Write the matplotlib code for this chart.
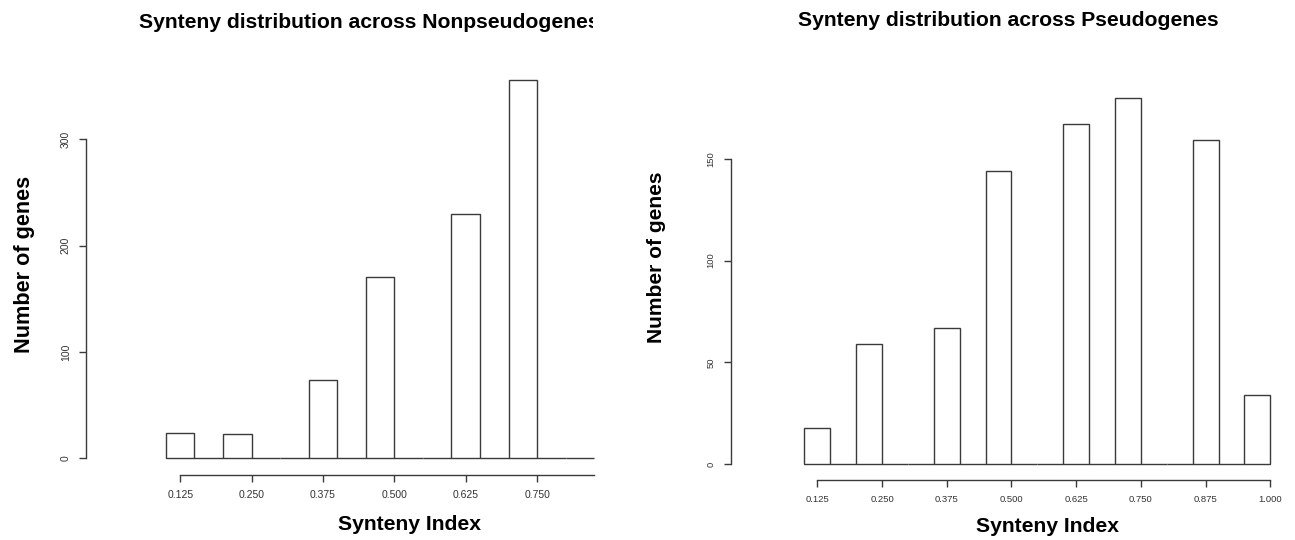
import matplotlib
matplotlib.use("Agg")
import matplotlib.pyplot as plt
from matplotlib.transforms import Bbox

plt.rcParams['font.family'] = ['Liberation Sans', 'DejaVu Sans']

# histogram bins (left edges, width 0.05) and counts
non_bin_starts = [0.10, 0.15, 0.20, 0.25, 0.30, 0.35, 0.40, 0.45, 0.50, 0.55,
                  0.60, 0.65, 0.70, 0.75, 0.80]
non_counts = [24, 0, 23, 0, 0, 74, 0, 171, 0, 0, 230, 0, 356, 0, 0]

pseudo_bin_starts = [0.10, 0.15, 0.20, 0.25, 0.30, 0.35, 0.40, 0.45, 0.50, 0.55,
                     0.60, 0.65, 0.70, 0.75, 0.80, 0.85, 0.90, 0.95]
pseudo_counts = [18, 0, 59, 0, 0, 67, 0, 144, 0, 0, 167, 0, 180, 0, 0, 159, 0, 34]
bin_width = 0.05

non_xticks = [0.125, 0.250, 0.375, 0.500, 0.625, 0.750]
pseudo_xticks = [0.125, 0.250, 0.375, 0.500, 0.625, 0.750, 0.875, 1.000]
non_yticks = [0, 100, 200, 300]
pseudo_yticks = [0, 50, 100, 150]

LINE = '#3a3a3a'
W, H = 1295, 540


def px_axes(fig, x0, y0, x1, y1):
    # pixel box (from top-left) -> figure fraction axes
    return fig.add_axes([x0 / W, (H - y1) / H, (x1 - x0) / W, (y1 - y0) / H])


def style_hist(ax, starts, counts, xticks, yticks, xlim, ylim, xend, tick_fs):
    ax.bar(starts, counts, width=bin_width, align='edge', fill=False,
           edgecolor=LINE, linewidth=1.0)
    ax.set_xlim(*xlim)
    ax.set_ylim(*ylim)
    for s in ['top', 'right']:
        ax.spines[s].set_visible(False)
    ax.spines['left'].set_bounds(yticks[0], yticks[-1])
    ax.spines['bottom'].set_bounds(xticks[0], xend)
    for s in ['left', 'bottom']:
        ax.spines[s].set_color(LINE)
        ax.spines[s].set_linewidth(1.0)
    ax.set_xticks(xticks)
    ax.set_xticklabels([f'{t:.3f}' for t in xticks], fontsize=tick_fs, color='#333333')
    ax.set_yticks(yticks)
    ax.set_yticklabels([str(t) for t in yticks], fontsize=tick_fs, color='#333333',
                       rotation=90, va='center')
    ax.tick_params(axis='both', length=5, width=1.0, color=LINE, pad=6)


fig = plt.figure(figsize=(W / 100, H / 100), dpi=100)

ax1 = px_axes(fig, 86, 64.7, 613.6, 474.5)
style_hist(ax1, non_bin_starts, non_counts, non_xticks, non_yticks,
           (-0.04, 0.884), (-15.2, 370.2), 0.85, 7.5)

ax2 = px_axes(fig, 731, 83, 1291, 480)
style_hist(ax2, pseudo_bin_starts, pseudo_counts, pseudo_xticks, pseudo_yticks,
           (-0.0417, 1.04), (-7.7, 187.2), 1.0, 6.8)

bold = dict(fontweight='bold', color='black')

# left title is cut off at the right edge of the original panel
t1 = fig.text(139 / W, 1 - 22 / H, 'Synteny distribution across Nonpseudogenes',
              ha='left', va='center', fontsize=15.2, **bold)
t1.set_clip_box(Bbox.from_extents(0, 0, 593, H))
t1.set_clip_on(True)
fig.text(1008 / W, 1 - 21 / H, 'Synteny distribution across Pseudogenes',
         ha='center', va='center', fontsize=15.2, **bold)

fig.text(25 / W, 1 - 264 / H, 'Number of genes', rotation=90,
         ha='center', va='center', fontsize=15.6, **bold)
fig.text(656 / W, 1 - 257.5 / H, 'Number of genes', rotation=90,
         ha='center', va='center', fontsize=15.1, **bold)

fig.text(410 / W, 1 - 525 / H, 'Synteny Index', ha='center', va='center',
         fontsize=15.2, **bold)
fig.text(1048 / W, 1 - 527 / H, 'Synteny Index', ha='center', va='center',
         fontsize=15.2, **bold)

fig.savefig('out.png', dpi=100)
